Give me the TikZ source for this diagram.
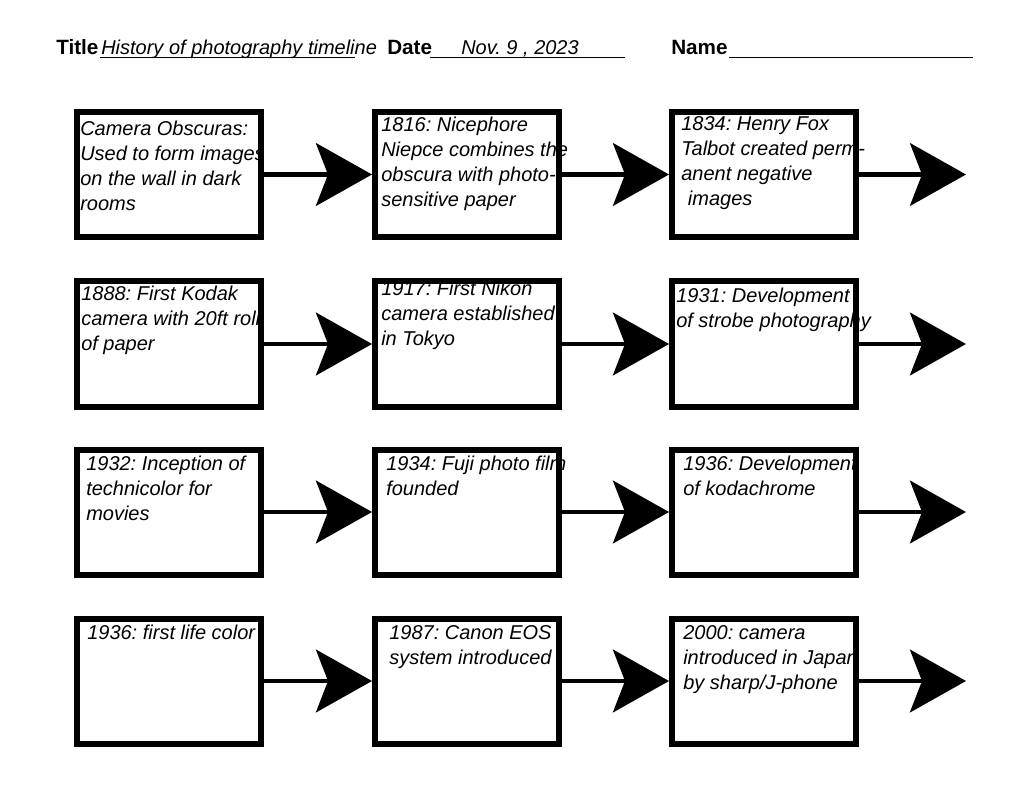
\documentclass[tikz,border=0pt]{standalone}
\usepackage{fontspec}
\setmainfont{Liberation Sans}
\usepackage{tikz}
\usetikzlibrary{arrows.meta, positioning}
\frenchspacing

\begin{document}
\begin{tikzpicture}[
    x=0.75pt, y=-0.75pt,
    card/.style={
        draw=black, line width=4.5pt, inner sep=0pt,
        minimum width=138pt, minimum height=93.75pt,
    },
    note/.style={
        anchor=north west, align=left, inner sep=0pt,
        font=\fontsize{15}{18.75}\selectfont\itshape,
    },
    flow/.style={
        line width=3.5pt, -{Stealth[length=42pt, width=47pt, inset=9pt]},
    },
    head/.style={anchor=base west, inner sep=0pt, font=\fontsize{15.5}{18}\selectfont\bfseries},
    fillin/.style={anchor=base west, inner sep=0pt, font=\fontsize{15}{18}\selectfont\itshape},
    rule/.style={line width=1.2pt},
]

% ── Page ───────────────────────────────────────────────────────────────────
\fill[white] (0,0) rectangle (1024,791);
\useasboundingbox (0,0) rectangle (1024,791);

% ── Header line ────────────────────────────────────────────────────────────
\node[head]   (title) at (56,55)  {Title};
\node[fillin] (topic) at (101,55) {History of photography timeline};
\node[head]   (date)  at (387,55) {Date};
\node[fillin] (day)   at (461,55) {Nov. 9 , 2023};
\node[head]   (name)  at (671,55) {Name};

\draw[rule] (100,57.5) -- (355,57.5);
\draw[rule] (430,57.5) -- (625,57.5);
\draw[rule] (729,57.5) -- (973,57.5);

% ── Entries (behind the frames) ────────────────────────────────────────────
\node[note] (t11) at (80,121)  {Camera Obscuras:\\Used to form images\\on the wall in dark\\rooms};
\node[note] (t12) at (381,117) {1816: Nicephore\\Niepce combines the\\obscura with photo-\\sensitive paper};
\node[note] (t13) at (681,116) {1834: Henry Fox\\Talbot created perm-\\anent negative\\\hspace*{5pt}images};

\node[note] (t21) at (81,286)  {1888: First Kodak\\camera with 20ft roll\\of paper};
\node[note] (t22) at (381,281) {1917: First Nikon\\camera established\\in Tokyo};
\node[note] (t23) at (676,288) {1931: Development\\of strobe photography};

\node[note] (t31) at (86,456)  {1932: Inception of\\technicolor for\\movies};
\node[note] (t32) at (386,456) {1934: Fuji photo film\\founded};
\node[note] (t33) at (683,456) {1936: Development\\of kodachrome};

\node[note] (t41) at (87,625)  {1936: first life color};
\node[note] (t42) at (389,625) {1987: Canon EOS\\system introduced};
\node[note] (t43) at (683,625) {2000: camera\\introduced in Japan\\by sharp/J-phone};

% ── Frames ─────────────────────────────────────────────────────────────────
\node[card] (b11) at (169,174.5) {};
\node[card] (b12) at (467,174.5) {};
\node[card] (b13) at (764,174.5) {};

\node[card] (b21) at (169,344) {};
\node[card] (b22) at (467,344) {};
\node[card] (b23) at (764,344) {};

\node[card] (b31) at (169,512) {};
\node[card] (b32) at (467,512) {};
\node[card] (b33) at (764,512) {};

\node[card] (b41) at (169,681) {};
\node[card] (b42) at (467,681) {};
\node[card] (b43) at (764,681) {};

% ── Arrows ─────────────────────────────────────────────────────────────────
\coordinate (e1) at (966,174.5);
\coordinate (e2) at (966,344);
\coordinate (e3) at (966,512);
\coordinate (e4) at (966,681);

\foreach \r in {1,2,3,4} {
    \draw[flow] (b\r1.east) -- (b\r2.west);
    \draw[flow] (b\r2.east) -- (b\r3.west);
    \draw[flow] (b\r3.east) -- (e\r);
}

\end{tikzpicture}
\end{document}
